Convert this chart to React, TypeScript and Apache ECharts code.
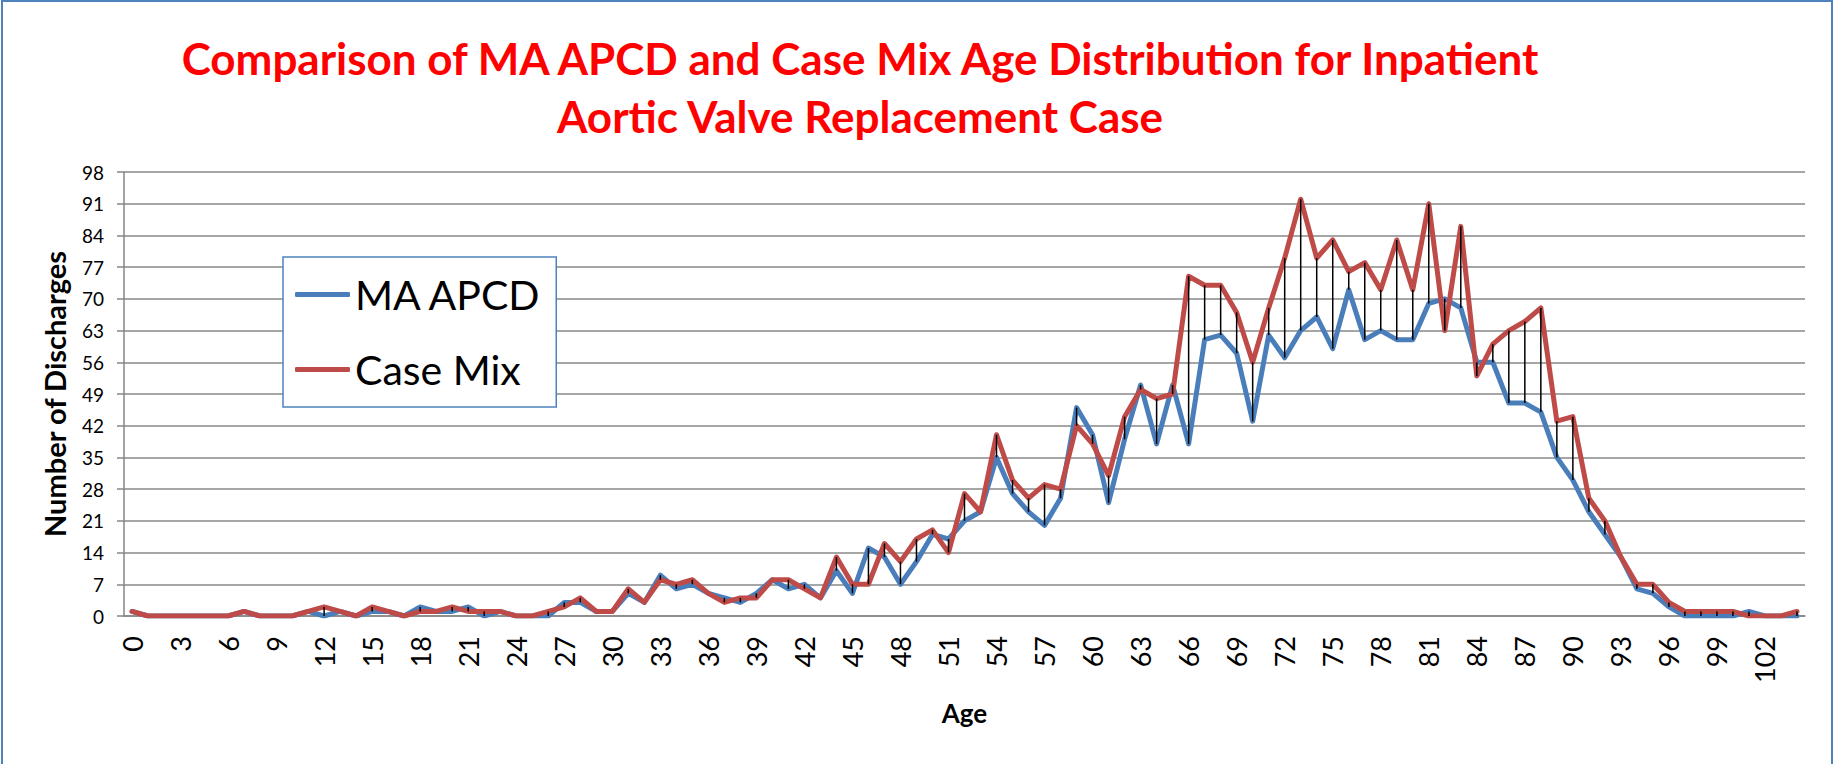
import React, { useEffect, useRef } from "react";
import * as echarts from "echarts";

const TITLE_LINE_1 = "Comparison of MA APCD and Case Mix Age Distribution for Inpatient";
const TITLE_LINE_2 = "Aortic Valve Replacement Case";

const ages: string[] = Array.from({ length: 105 }, (_, i) => String(i));

const maApcd: number[] = [
  1, 0, 0, 0, 0, 0, 0, 1, 0, 0,
  0, 1, 0, 1, 0, 1, 1, 0, 2, 1,
  1, 2, 0, 1, 0, 0, 0, 3, 3, 1,
  1, 5, 3, 9, 6, 7, 5, 4, 3, 5,
  8, 6, 7, 4, 10, 5, 15, 13, 7, 12,
  18, 17, 21, 23, 35, 27, 23, 20, 26, 46,
  40, 25, 39, 51, 38, 51, 38, 61, 62, 58,
  43, 62, 57, 63, 66, 59, 72, 61, 63, 61,
  61, 69, 70, 68, 56, 56, 47, 47, 45, 35,
  30, 23, 18, 13, 6, 5, 2, 0, 0, 0,
  0, 1, 0, 0, 0,
];

const caseMix: number[] = [
  1, 0, 0, 0, 0, 0, 0, 1, 0, 0,
  0, 1, 2, 1, 0, 2, 1, 0, 1, 1,
  2, 1, 1, 1, 0, 0, 1, 2, 4, 1,
  1, 6, 3, 8, 7, 8, 5, 3, 4, 4,
  8, 8, 6, 4, 13, 7, 7, 16, 12, 17,
  19, 14, 27, 23, 40, 30, 26, 29, 28, 42,
  38, 31, 44, 50, 48, 49, 75, 73, 73, 67,
  56, 68, 79, 92, 79, 83, 76, 78, 72, 83,
  72, 91, 63, 86, 53, 60, 63, 65, 68, 43,
  44, 26, 21, 13, 7, 7, 3, 1, 1, 1,
  1, 0, 0, 0, 1,
];

const FONT = "Lato, 'Open Sans', sans-serif";

function measure(text: string, font: string): number {
  const c = document.createElement("canvas");
  const ctx = c.getContext("2d");
  if (!ctx) return text.length * 20;
  ctx.font = font;
  return ctx.measureText(text).width;
}

export default function App() {
  const ref = useRef<HTMLDivElement | null>(null);

  useEffect(() => {
    if (!ref.current) return;
    const chart = echarts.init(ref.current, undefined, { renderer: "svg" });

    const titleSize = 43;
    const titleFont = `bold ${titleSize}px Lato`;
    const w1 = measure(TITLE_LINE_1, titleFont);
    const sx = w1 > 0 ? 1363 / w1 : 1;

    const hiLo = ages.map((_, i) => [i, maApcd[i], caseMix[i]]);

    chart.setOption({
      animation: false,
      backgroundColor: "#ffffff",
      textStyle: { fontFamily: FONT },
      grid: { left: 124, right: 30, top: 172, bottom: 148 },
      graphic: [
        {
          type: "rect",
          shape: { x: 2, y: 1, width: 1830, height: 800 },
          style: { fill: "none", stroke: "#4f81bd", lineWidth: 2 },
          silent: true,
          z: 10,
        },
        {
          type: "text",
          x: 860,
          y: 58,
          scaleX: sx,
          style: {
            text: TITLE_LINE_1,
            fill: "#ff0000",
            fontFamily: "Lato",
            fontSize: titleSize,
            fontWeight: "bold",
            textAlign: "center",
            textVerticalAlign: "middle",
          },
        },
        {
          type: "text",
          x: 860,
          y: 116,
          scaleX: sx,
          style: {
            text: TITLE_LINE_2,
            fill: "#ff0000",
            fontFamily: "Lato",
            fontSize: titleSize,
            fontWeight: "bold",
            textAlign: "center",
            textVerticalAlign: "middle",
          },
        },
      ],
      legend: {
        data: ["MA APCD", "Case Mix"],
        orient: "vertical",
        left: 283,
        top: 257,
        padding: [17, 14, 17, 12],
        itemGap: 34,
        itemWidth: 55,
        itemHeight: 5,
        icon: "roundRect",
        borderColor: "#4f81bd",
        borderWidth: 1.5,
        backgroundColor: "#ffffff",
        textStyle: { fontSize: 41, fontFamily: FONT, color: "#000000" },
      },
      xAxis: {
        type: "category",
        data: ages,
        boundaryGap: true,
        name: "Age",
        nameLocation: "middle",
        nameGap: 84,
        nameTextStyle: {
          fontSize: 26,
          fontWeight: "bold",
          fontFamily: FONT,
          color: "#000000",
          verticalAlign: "top",
        },
        axisLine: { lineStyle: { color: "#868686", width: 1.5 } },
        axisTick: { inside: true, length: 9, interval: 0, lineStyle: { color: "#868686", width: 1.5 } },
        axisLabel: { interval: 2, rotate: 90, fontSize: 27, fontFamily: FONT, color: "#000000", margin: 20 },
        splitLine: { show: false },
      },
      yAxis: {
        type: "value",
        min: 0,
        max: 98,
        interval: 7,
        name: "Number of Discharges",
        nameLocation: "middle",
        nameGap: 55,
        nameTextStyle: { fontSize: 29, fontWeight: "bold", fontFamily: FONT, color: "#000000" },
        axisLine: { show: true, lineStyle: { color: "#868686", width: 1.5 } },
        axisTick: { show: true, length: 7, lineStyle: { color: "#868686", width: 1.5 } },
        axisLabel: { fontSize: 19, fontFamily: FONT, color: "#000000", margin: 20 },
        splitLine: { lineStyle: { color: "#898989", width: 1.5 } },
      },
      series: [
        {
          name: "MA APCD",
          type: "line",
          data: maApcd,
          symbol: "none",
          showSymbol: false,
          color: "#4a7ebb",
          lineStyle: { width: 5, color: "#4a7ebb", join: "round", cap: "round" },
          z: 2,
        },
        {
          name: "Case Mix",
          type: "line",
          data: caseMix,
          symbol: "none",
          showSymbol: false,
          color: "#be4b48",
          lineStyle: { width: 5, color: "#be4b48", join: "round", cap: "round" },
          z: 3,
        },
        {
          name: "High-Low",
          type: "custom",
          data: hiLo,
          encode: { x: 0, y: [1, 2] },
          z: 4,
          renderItem: (_params: any, api: any) => {
            const i = api.value(0);
            const a = api.coord([i, api.value(1)]);
            const b = api.coord([i, api.value(2)]);
            return {
              type: "line",
              shape: { x1: a[0], y1: a[1], x2: b[0], y2: b[1] },
              style: { stroke: "#000000", lineWidth: 1.5 },
            };
          },
        },
      ],
    });

    return () => chart.dispose();
  }, []);

  return (
    <div
      ref={ref}
      style={{ position: "absolute", left: 0, top: 0, width: 1835, height: 764 }}
    />
  );
}
